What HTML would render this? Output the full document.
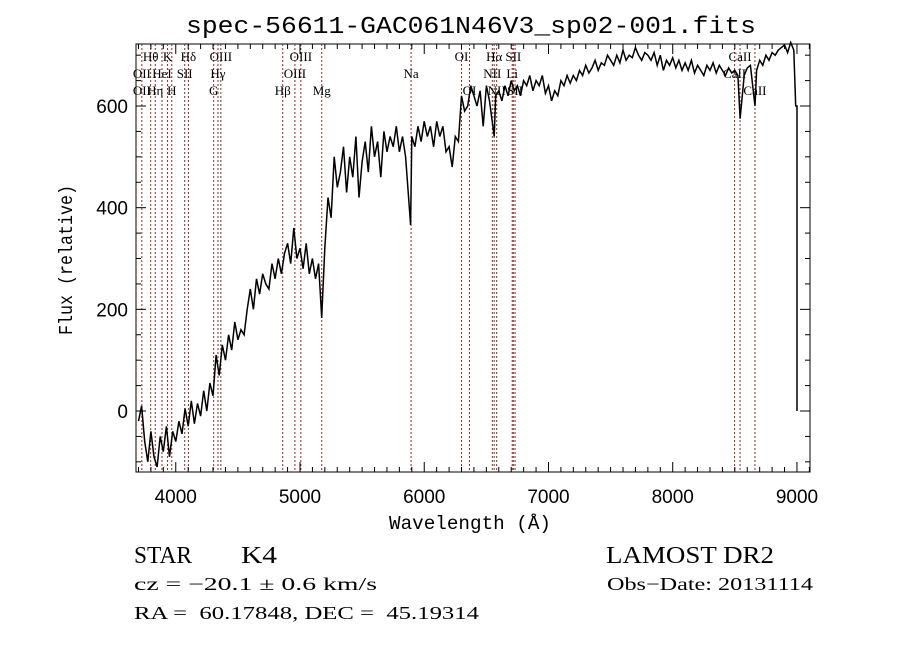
<!DOCTYPE html>
<html><head><meta charset="utf-8"><style>
html,body{margin:0;padding:0;background:#fff;}
svg{display:block;}
text{font-family:"Liberation Sans",sans-serif;fill:#000;white-space:pre;}
.s{font-family:"Liberation Serif",serif;}
.m{font-family:"Liberation Mono",monospace;}
</style></head><body>
<svg id="chart" width="900" height="649" viewBox="0 0 900 649" xmlns="http://www.w3.org/2000/svg" xml:space="preserve">
<text x="471" y="33" font-size="24" text-anchor="middle" class="m" textLength="570" lengthAdjust="spacingAndGlyphs">spec-56611-GAC061N46V3_sp02-001.fits</text>
<rect x="136" y="44" width="674" height="428" fill="none" stroke="#000" stroke-width="1"/>
<g id="lines"></g><g id="ticks"></g><g id="series"></g>
<text x="470" y="529" font-size="19" text-anchor="middle" class="m" textLength="162" lengthAdjust="spacingAndGlyphs">Wavelength (Å)</text>
<text x="0" y="0" font-size="19" text-anchor="middle" class="m" textLength="150" lengthAdjust="spacingAndGlyphs" transform="translate(72,260) rotate(-90)">Flux (relative)</text>
<text x="134" y="563" font-size="24" class="s" textLength="58" lengthAdjust="spacingAndGlyphs">STAR</text>
<text x="241" y="563" font-size="24" class="s" textLength="36" lengthAdjust="spacingAndGlyphs">K4</text>
<text x="606" y="563" font-size="24" class="s" textLength="168" lengthAdjust="spacingAndGlyphs">LAMOST DR2</text>
<text x="134" y="590" font-size="18" class="s" textLength="243" lengthAdjust="spacingAndGlyphs">cz = −20.1 ± 0.6 km/s</text>
<text x="607" y="590" font-size="18" class="s" textLength="206" lengthAdjust="spacingAndGlyphs">Obs−Date: 20131114</text>
<text x="134" y="619" font-size="18" class="s" textLength="345" lengthAdjust="spacingAndGlyphs">RA =  60.17848, DEC =  45.19314</text>
</svg>
<script>
const waves=[3700,3725,3750,3775,3800,3825,3850,3875,3900,3925,3950,3975,
4000,4025,4050,4075,4100,4125,4150,4175,4200,4225,4250,4275,
4300,4325,4350,4375,4400,4425,4450,4475,4500,4525,4550,4575,
4600,4625,4650,4675,4700,4725,4750,4775,4800,4825,4850,4875,
4900,4925,4950,4975,5000,5025,5050,5075,5100,5125,5150,5175,
5200,5225,5250,5275,5300,5325,5350,5375,5400,5425,5450,5475,
5500,5525,5550,5575,5600,5625,5650,5675,5700,5725,5750,5775,
5800,5825,5850,5890,5900,5925,5950,5975,6000,6025,6050,6075,
6100,6125,6150,6175,6200,6225,6250,6275,6300,6325,6350,6375,
6400,6425,6450,6475,6500,6525,6563,6575,
6600,6625,6650,6675,6700,6725,6750,6775,6800,6825,6850,6875,
6900,6925,6950,6975,7000,7025,7050,7075,7100,7125,7150,7175,
7200,7225,7250,7275,7300,7325,7350,7375,7400,7425,7450,7475,
7500,7525,7550,7575,7600,7625,7650,7675,7700,7725,7750,7775,
7800,7825,7850,7875,7900,7925,7950,7975,8000,8025,8050,8075,
8100,8125,8150,8175,8200,8225,8250,8275,8300,8325,8350,8375,
8400,8425,8450,8475,8500,8525,8542,8575,8600,8625,8662,8675,
8700,8725,8750,8775,8800,8825,8850,8875,8900,8925,8950,8975,8990,9000,9000];
const fluxes=[-20,10,-60,-100,-40,-90,-110,-50,-80,-30,-90,-40,
-60,-20,-45,5,-30,20,-25,15,-10,40,0,55,
30,110,70,130,100,150,120,175,140,160,150,200,
240,200,260,230,270,250,240,290,260,300,270,310,
330,290,360,300,320,280,330,270,300,260,290,183,
320,420,380,500,440,470,520,430,500,460,540,420,
490,530,470,560,500,530,460,550,510,540,520,560,
510,540,500,366,540,520,560,530,570,540,560,520,
570,540,560,510,520,480,540,530,620,590,600,640,
620,600,630,560,640,610,540,620,
630,610,640,620,650,630,640,620,650,640,660,630,
650,640,660,625,640,610,630,620,650,640,660,645,
660,650,670,660,680,665,675,690,670,685,680,700,
690,680,700,685,710,690,700,695,715,700,690,705,
700,690,705,680,700,670,690,680,695,675,690,670,
685,670,690,665,680,670,660,680,670,685,665,680,
670,660,675,665,670,660,575,660,675,680,600,670,
690,680,700,690,705,700,710,715,720,705,725,710,600,600,0];
const lineWaves=[3727,3798,3835,3889,3934,3968,4072,4102,4305,4340,4363,4861,4959,5007,5175,5894,6300,6364,6548,6563,6583,6708,6717,6731,8498,8542,8662];
const lineLabels=[
 {t:'OII',w:3727,r:1},{t:'OII',w:3727,r:2},{t:'Hθ',w:3798,r:0},{t:'Hη',w:3835,r:2},{t:'HeI',w:3889,r:1},{t:'K',w:3934,r:0},{t:'H',w:3968,r:2},
 {t:'SII',w:4072,r:1},{t:'Hδ',w:4102,r:0},{t:'G',w:4305,r:2},{t:'Hγ',w:4340,r:1},{t:'OIII',w:4363,r:0},
 {t:'Hβ',w:4861,r:2},{t:'OIII',w:4959,r:1},{t:'OIII',w:5007,r:0},{t:'Mg',w:5175,r:2},{t:'Na',w:5894,r:1},
 {t:'OI',w:6300,r:0},{t:'OI',w:6364,r:2},{t:'NII',w:6548,r:1},{t:'Hα',w:6563,r:0},{t:'NII',w:6583,r:2},
 {t:'Li',w:6708,r:1},{t:'SII',w:6717,r:0},{t:'SII',w:6731,r:2},{t:'CaII',w:8498,r:1},{t:'CaII',w:8542,r:0},{t:'CaII',w:8662,r:2}];
const xTicks=[4000,5000,6000,7000,8000,9000];
const yTicks=[0,200,400,600];

const X0=136,X1=810,Y0=44,Y1=472,WMIN=3680,WMAX=9105,FMIN=-120,FMAX=722;
const xs=w=>X0+(w-WMIN)/(WMAX-WMIN)*(X1-X0);
const ys=f=>Y1-(f-FMIN)/(FMAX-FMIN)*(Y1-Y0);
const NS='http://www.w3.org/2000/svg';
function mk(tag,attrs,parent){const e=document.createElementNS(NS,tag);for(const k in attrs)e.setAttribute(k,attrs[k]);parent.appendChild(e);return e;}
const gL=document.getElementById('lines'),gT=document.getElementById('ticks'),gS=document.getElementById('series');
lineWaves.forEach(w=>{
 const l=mk('line',{x1:xs(w),x2:xs(w),y1:Y0,y2:Y1,stroke:'#8b2a2a','stroke-width':1,'stroke-dasharray':'2,2'},gL);
 
 
});
const rowY=[61,78,95];
lineLabels.forEach(o=>{
 const t=mk('text',{x:xs(o.w),y:rowY[o.r],'font-size':13,'text-anchor':'middle',class:'s'},gL);
 t.textContent=o.t;
 
 
});
for(let w=3700;w<=9100;w+=100){
 const major=w%1000===0,len=major?10:5,x=xs(w);
 const a=mk('line',{x1:x,x2:x,y1:Y1,y2:Y1-len,stroke:'#000'},gT);
 
 
 const b=mk('line',{x1:x,x2:x,y1:Y0,y2:Y0+len,stroke:'#000'},gT);
 
 
}
xTicks.forEach(w=>{
 const t=mk('text',{x:xs(w),y:503,'font-size':19,'text-anchor':'middle'},gT);
 t.textContent=w;
 
 
});
for(let f=-100;f<=700;f+=50){
 const major=f%200===0,len=major?10:5,y=ys(f);
 const a=mk('line',{x1:X0,x2:X0+len,y1:y,y2:y,stroke:'#000'},gT);
 
 
 const b=mk('line',{x1:X1,x2:X1-len,y1:y,y2:y,stroke:'#000'},gT);
 
 
}
yTicks.forEach(f=>{
 const t=mk('text',{x:128,y:ys(f)+7,'font-size':19,'text-anchor':'end'},gT);
 t.textContent=f;
 
 
});
const pts=waves.map((w,i)=>xs(w).toFixed(1)+','+ys(fluxes[i]).toFixed(1)).join(' ');
const pl=mk('polyline',{points:pts,fill:'none',stroke:'#000','stroke-width':1.5,'stroke-linejoin':'miter'},gS);


</script>
</body></html>
